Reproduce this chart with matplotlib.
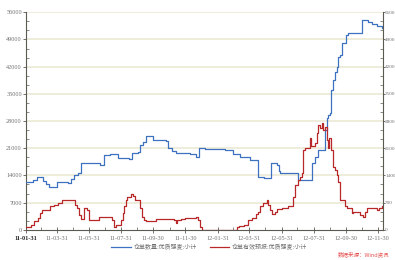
import matplotlib

matplotlib.use("Agg")

import matplotlib.pyplot as plt
import matplotlib.dates as mdates
import pandas as pd
from matplotlib.ticker import MultipleLocator, FixedLocator

plt.rcParams["font.family"] = ["Liberation Serif", "Noto Sans CJK SC", "DejaVu Sans"]
plt.rcParams["axes.unicode_minus"] = False

# 仓单数量 (left axis), step breakpoints
blue_dates = [
    "2011-01-31", "2011-02-13", "2011-02-21", "2011-03-04", "2011-03-10", "2011-03-16",
    "2011-03-31", "2011-04-12", "2011-04-21", "2011-04-27", "2011-05-03", "2011-05-09",
    "2011-05-16", "2011-06-05", "2011-06-20", "2011-06-28", "2011-07-10", "2011-07-21",
    "2011-07-25", "2011-08-14", "2011-08-21", "2011-09-01", "2011-09-05", "2011-09-10",
    "2011-09-17", "2011-09-29", "2011-10-13", "2011-10-24", "2011-10-28", "2011-11-05",
    "2011-11-12", "2011-12-09", "2011-12-20", "2011-12-26", "2012-01-06", "2012-01-25",
    "2012-02-13", "2012-02-29", "2012-03-13", "2012-04-01", "2012-04-16", "2012-04-28",
    "2012-05-11", "2012-05-22", "2012-05-26", "2012-05-28", "2012-07-01", "2012-07-28",
    "2012-08-02", "2012-08-08", "2012-08-21", "2012-08-25", "2012-08-27", "2012-08-31",
    "2012-09-03", "2012-09-06", "2012-09-09", "2012-09-13", "2012-09-15", "2012-09-19",
    "2012-09-23", "2012-10-01", "2012-10-05", "2012-10-31", "2012-11-12", "2012-11-19",
    "2012-11-28", "2012-12-08", "2012-12-10",
]
blue_values = [
    12400, 12700, 13500, 12600, 11800, 11100,
    12400, 12200, 12000, 13200, 14200, 14600,
    17200, 17100, 16800, 19200, 19600, 19500,
    18500, 18300, 19800, 20000, 21800, 22500,
    24200, 23200, 23000, 22800, 21000, 20200,
    19900, 19500, 18800, 21100, 20900, 20700,
    20500, 19400, 18800, 18000, 13700, 13400,
    17200, 16800, 15200, 14600, 12900, 17200,
    18800, 20500, 25700, 28800, 29600, 30000,
    36000, 38500, 40600, 41900, 44500, 45000,
    48100, 50100, 50600, 54000, 53500, 53100,
    52600, 52000, 52000,
]

# 仓单有效预报 (right axis), step breakpoints
red_dates = [
    "2011-01-31", "2011-02-10", "2011-02-15", "2011-02-23", "2011-02-27", "2011-03-03",
    "2011-03-18", "2011-03-25", "2011-04-01", "2011-04-10", "2011-05-04", "2011-05-08",
    "2011-05-12", "2011-05-16", "2011-05-22", "2011-05-27", "2011-05-31", "2011-06-10",
    "2011-06-18", "2011-07-08", "2011-07-14", "2011-07-18", "2011-07-21", "2011-07-31",
    "2011-08-03", "2011-08-06", "2011-08-09", "2011-08-12", "2011-08-18", "2011-08-22",
    "2011-08-27", "2011-09-05", "2011-09-08", "2011-09-12", "2011-09-16", "2011-10-05",
    "2011-11-08", "2011-11-12", "2011-11-15", "2011-11-22", "2011-11-30", "2011-12-20",
    "2011-12-24", "2011-12-28", "2012-01-01", "2012-03-07", "2012-03-12", "2012-03-20",
    "2012-03-28", "2012-04-05", "2012-04-12", "2012-04-16", "2012-04-20", "2012-04-26",
    "2012-05-03", "2012-05-05", "2012-05-09", "2012-05-13", "2012-05-18", "2012-05-22",
    "2012-06-01", "2012-06-12", "2012-06-22", "2012-06-26", "2012-07-01", "2012-07-05",
    "2012-07-09", "2012-07-11", "2012-07-15", "2012-07-24", "2012-07-27", "2012-08-02",
    "2012-08-06", "2012-08-08", "2012-08-13", "2012-08-16", "2012-08-18", "2012-08-21",
    "2012-08-25", "2012-08-27", "2012-08-30", "2012-09-03", "2012-09-06", "2012-09-09",
    "2012-09-13", "2012-09-15", "2012-09-19", "2012-09-28", "2012-10-02", "2012-10-12",
    "2012-10-14", "2012-10-27", "2012-11-02", "2012-11-06", "2012-11-09", "2012-11-28",
    "2012-12-02", "2012-12-08", "2012-12-10",
]
red_values = [
    60, 120, 230, 300, 430, 510,
    600, 640, 700, 770, 640, 560,
    380, 280, 560, 500, 260, 240,
    340, 340, 250, 70, 120, 250,
    430, 600, 770, 840, 920, 860,
    770, 560, 340, 250, 230, 280,
    250, 170, 250, 280, 300, 340,
    250, 80, 0, 60, 110, 120,
    250, 300, 400, 470, 600, 700,
    770, 640, 500, 400, 450, 530,
    560, 600, 840, 1150, 1280, 1370,
    1460, 2050, 2100, 2360, 2150, 2230,
    2490, 2700, 2620, 2750, 2570, 2650,
    2310, 2100, 2360, 2050, 1620, 1540,
    1410, 1240, 770, 600, 560, 430,
    470, 380, 340, 470, 560, 510,
    560, 600, 600,
]

tick_dates = [
    "2011-01-31", "2011-03-31", "2011-05-31", "2011-07-31", "2011-09-30", "2011-11-30",
    "2012-01-31", "2012-03-31", "2012-05-31", "2012-07-31", "2012-09-30", "2012-11-30",
]
left_ticks = [0, 7000, 14000, 21000, 28000, 35000, 42000, 49000, 56000]
right_ticks = [0, 700, 1400, 2100, 2800, 3500, 4200, 4900, 5600]

blue_label = "仓单数量:优质强麦:小计"
red_label = "仓单有效预报:优质强麦:小计"

BLUE = "#3D72C0"
RED = "#B82828"
GRID = "#EDEBD8"
SPINE = "#5A5A50"
TEXT = "#707070"

fig = plt.figure(figsize=(3.95, 2.6), dpi=100, facecolor="white")
ax = fig.add_axes([26 / 395, 1 - 229.8 / 260, (383 - 26) / 395, (229.8 - 12.3) / 260])
ax2 = ax.twinx()

bx = pd.to_datetime(blue_dates)
rx = pd.to_datetime(red_dates)
ln1, = ax.plot(bx, blue_values, drawstyle="steps-post", color=BLUE, linewidth=0.9, zorder=3)
ln2, = ax2.plot(rx, red_values, drawstyle="steps-post", color=RED, linewidth=0.9, zorder=3)

ax.set_xlim(pd.Timestamp("2011-01-31"), pd.Timestamp("2012-12-10"))
ax.set_ylim(0, 56000)
ax2.set_ylim(0, 5600)

for y in left_ticks[1:]:
    ax.axhline(y, color=GRID, linewidth=1.3, zorder=1)

ax.set_yticks(left_ticks)
ax.set_yticklabels([str(v) for v in left_ticks])
ax.yaxis.set_minor_locator(MultipleLocator(7000 / 3))
ax2.set_yticks(right_ticks)
ax2.set_yticklabels([str(v) for v in right_ticks])
ax2.yaxis.set_minor_locator(MultipleLocator(700 / 3))

ticks = pd.to_datetime(tick_dates)
ax.set_xticks(ticks)
ax.set_xticklabels([d.strftime("%y-%m-%d") for d in ticks])
ax.xaxis.set_minor_locator(FixedLocator(mdates.date2num(pd.date_range("2011-02-28", "2012-12-10", freq="2ME"))))

for a in (ax, ax2):
    for s in a.spines.values():
        s.set_visible(False)
ax.spines["left"].set_visible(True)
ax.spines["left"].set_color(SPINE)
ax.spines["bottom"].set_visible(True)
ax.spines["bottom"].set_color(SPINE)
ax2.spines["right"].set_visible(True)
ax2.spines["right"].set_color(SPINE)
for a in (ax, ax2):
    for s in a.spines.values():
        s.set_linewidth(0.8)

ax.tick_params(axis="y", which="major", direction="out", length=2.5, width=0.6,
               color=SPINE, labelsize=4.5, labelcolor=TEXT, pad=0.5)
ax.tick_params(axis="y", which="minor", direction="in", length=2, width=0.5, color=SPINE)
ax2.tick_params(axis="y", which="major", direction="out", length=1.3, width=0.6,
                color=SPINE, labelsize=3.7, labelcolor=TEXT, pad=0.2)
ax2.tick_params(axis="y", which="minor", direction="in", length=2, width=0.5, color=SPINE)
ax.tick_params(axis="x", which="major", direction="inout", length=5, width=0.6,
               color=SPINE, labelsize=4.5, labelcolor=TEXT, pad=2)
ax.tick_params(axis="x", which="minor", direction="in", length=2, width=0.5, color=SPINE)

first = ax.get_xticklabels()[0]
first.set_fontweight("bold")
first.set_color("#222222")

fig.legend([ln1, ln2], [blue_label, red_label], loc="center", bbox_to_anchor=(0.53, 0.05),
           ncol=2, frameon=False, handlelength=3.2, handletextpad=0.5,
           columnspacing=2.2, labelcolor=TEXT, prop={"family": ["Noto Sans CJK SC"], "size": 4.3})

fig.text(0.985, 0.012, "数据来源：Wind资讯", ha="right", va="bottom", fontsize=4,
         color="#E85050", style="italic", family=["Noto Sans CJK SC", "DejaVu Sans"])

fig.savefig("out.png", dpi=100, facecolor="white")
plt.close(fig)
